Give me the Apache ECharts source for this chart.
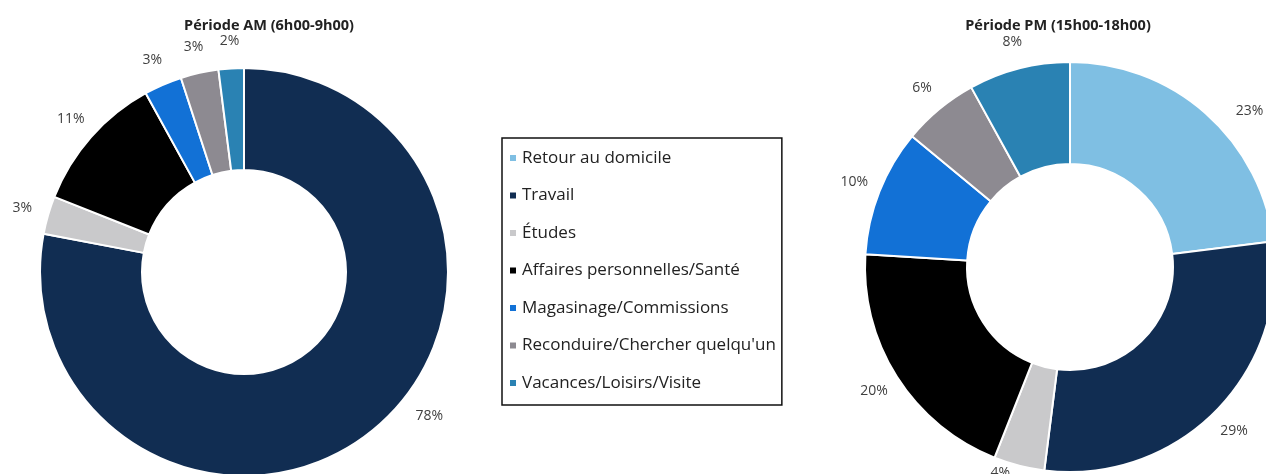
<!DOCTYPE html>
<html>
<head>
<meta charset="utf-8">
<script src="https://cdn.jsdelivr.net/npm/echarts@6/dist/echarts.min.js"></script>
<style>
html,body{margin:0;padding:0;background:#fff;}
#chart{width:1266px;height:474px;}
</style>
</head>
<body>
<div id="chart"></div>
<script>
const categories = ["Retour au domicile","Travail","Études","Affaires personnelles/Santé","Magasinage/Commissions","Reconduire/Chercher quelqu'un","Vacances/Loisirs/Visite"];
const colors = ["#7fbfe3","#112d52","#c9c9cb","#000000","#1271d6","#8d8a91","#2a82b3"];
const amValues = [0, 78, 3, 11, 3, 3, 2];
const pmValues = [23, 29, 4, 20, 10, 6, 8];
const amTitle = "Période AM (6h00-9h00)";
const pmTitle = "Période PM (15h00-18h00)";

const font = "'Open Sans', 'Noto Sans', sans-serif";

// Excel's best-fit moved a few labels off the slice midpoint
const amLabelNudge = {"Travail":[38,-34]};
const pmLabelNudge = {"Retour au domicile":[26,18], "Études":[-12,-19]};

function buildData(vals){
  const out = [];
  vals.forEach((v,i)=>{ if(v>0) out.push({name:categories[i], value:v, itemStyle:{color:colors[i]}}); });
  return out;
}
function buildLabelData(vals, nudge){
  const out = [];
  vals.forEach((v,i)=>{
    if(v>0){
      const item = {name:categories[i], value:v};
      if(nudge[categories[i]]) item.label = {offset:nudge[categories[i]]};
      out.push(item);
    }
  });
  return out;
}
function visiblePie(center, radius, vals){
  return {type:'pie', center:center, radius:radius, startAngle:90, clockwise:true,
    data:buildData(vals), label:{show:false}, labelLine:{show:false},
    itemStyle:{borderColor:'#fff', borderWidth:2}, silent:true};
}
function labelPie(center, r, vals, nudge){
  return {type:'pie', center:center, radius:[r, r+48], startAngle:90, clockwise:true,
    data:buildLabelData(vals, nudge),
    itemStyle:{color:'rgba(0,0,0,0)', borderWidth:0},
    label:{show:true, position:'inside', formatter:'{c}%', color:'#404040', fontSize:14, fontFamily:font},
    labelLine:{show:false}, silent:true, legendHoverLink:false};
}
const chart = echarts.init(document.getElementById('chart'), null, {renderer:'canvas'});
chart.setOption({
  animation:false,
  backgroundColor:'#fff',
  title:[
    {text:amTitle, left:264, top:13, textAlign:'center', textStyle:{fontSize:14.5, fontWeight:'bold', color:'#222', fontFamily:font}},
    {text:pmTitle, left:1053, top:13, textAlign:'center', textStyle:{fontSize:14.5, fontWeight:'bold', color:'#222', fontFamily:font}}
  ],
  legend:{
    orient:'vertical', left:502, top:138,
    data:categories, icon:'rect', itemWidth:8, itemHeight:8, itemGap:17.5,
    padding:[10,6,12,6], borderColor:'#111', borderWidth:1.5,
    selectedMode:false,
    textStyle:{fontSize:17, lineHeight:20, color:'#222', fontFamily:font}
  },
  series:[
    visiblePie([244,272],[102,204],amValues),
    visiblePie([1070,267],[103,205],pmValues),
    labelPie([244,272],204,amValues,amLabelNudge),
    labelPie([1070,267],205,pmValues,pmLabelNudge)
  ]
});
</script>
</body>
</html>
